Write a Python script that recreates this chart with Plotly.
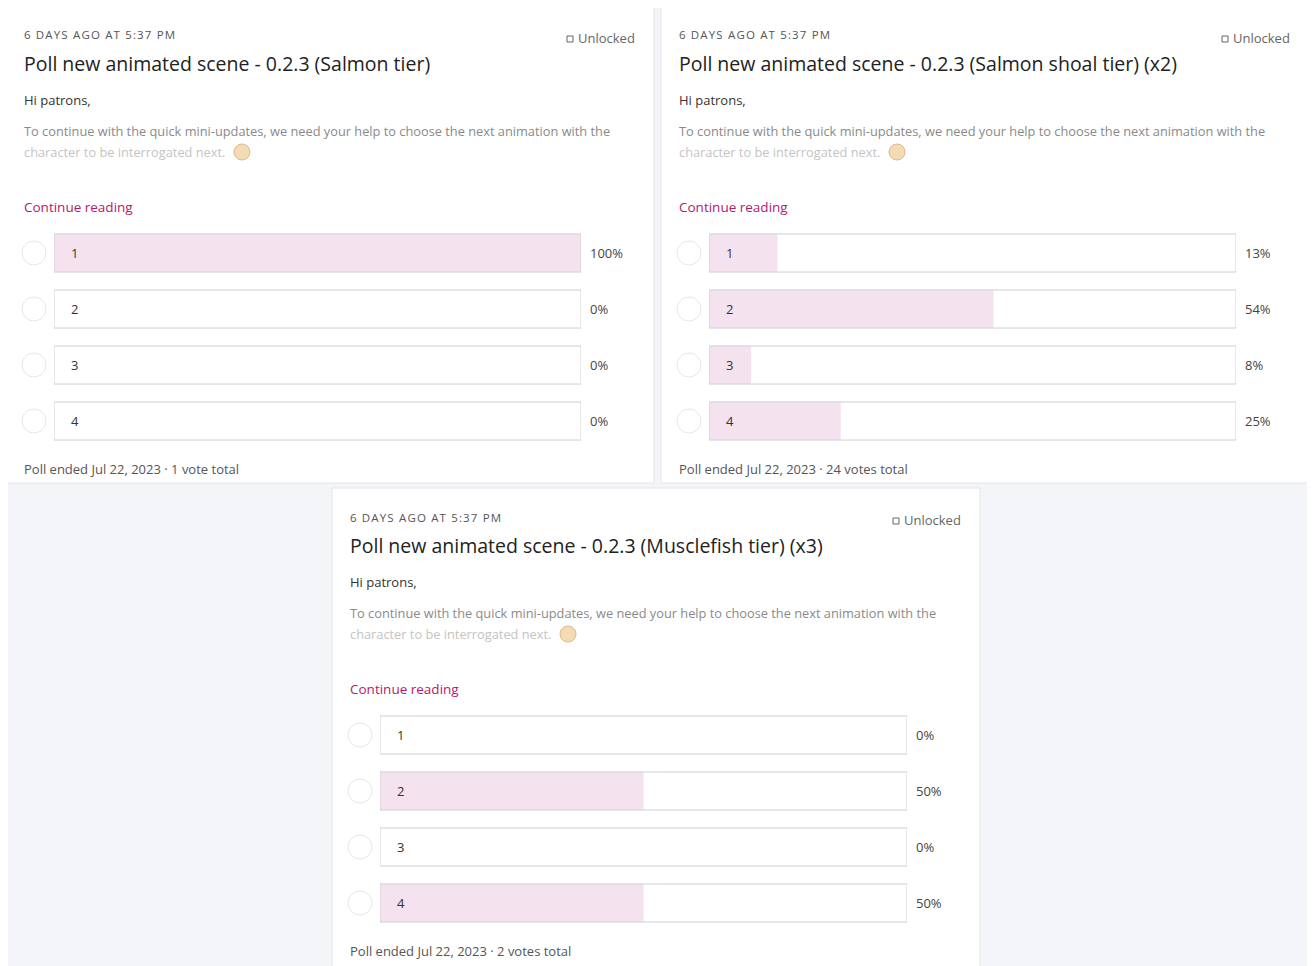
import plotly.graph_objects as go

W, H = 1315, 966
titles = ["Poll new animated scene - 0.2.3 (Salmon tier)",
          "Poll new animated scene - 0.2.3 (Salmon shoal tier) (x2)",
          "Poll new animated scene - 0.2.3 (Musclefish tier) (x3)"]
options = ["1", "2", "3", "4"]
pct_salmon = [100, 0, 0, 0]
pct_shoal = [13, 54, 8, 25]
pct_muscle = [0, 50, 0, 50]
footers = ["Poll ended Jul 22, 2023 · 1 vote total",
           "Poll ended Jul 22, 2023 · 24 votes total",
           "Poll ended Jul 22, 2023 · 2 votes total"]
polls = [pct_salmon, pct_shoal, pct_muscle]
cards = [(6, 6, 483), (661, 6, 483), (332, 488, 980)]

FONT = "Open Sans"
OFF = 8  # page body offset
def px(x): return (x - OFF) / W
def py(y): return 1 - (y - OFF) / H

fig = go.Figure()
shapes, annos = [], []
for i, ((cx, cy, cb), vals) in enumerate(zip(cards, polls)):
    shapes.append(dict(type="rect", xref="paper", yref="paper", x0=px(cx), x1=px(cx + 648),
                       y0=py(cb), y1=py(cy), fillcolor="white", line=dict(color="#e4e5ea", width=1), layer="below"))
    ox, oy = cx - 6, cy - 6
    def t(x, y, s, size, color, **kw):
        annos.append(dict(x=px(ox + x), y=py(oy + y), xref="paper", yref="paper", text=s, showarrow=False,
                          xanchor=kw.get("xanchor", "left"), yanchor="middle",
                          font=dict(family=FONT, size=size, color=color)))
    t(22, 35, "\u200a".join("6 DAYS AGO AT 5:37 PM"), 11.5, "#555")
    t(637, 38, "Unlocked", 13, "#666", xanchor="right")
    t(22, 63, titles[i], 19.5, "#222")
    t(22, 100, "Hi patrons,", 13, "#333")
    t(22, 131, "To continue with the quick mini-updates, we need your help to choose the next animation with the", 12.8, "#8a8a8a")
    t(22, 152, "character to be interrogated next.", 12.8, "#c4c4c4")
    shapes.append(dict(type="circle", xref="paper", yref="paper", x0=px(ox + 234), x1=px(ox + 250),
                       y0=py(oy + 160), y1=py(oy + 144), fillcolor="#f3dcb5", line=dict(color="#e0b888", width=1)))
    t(22, 207, "Continue reading", 13.5, "#b3186d")
    t(22, 469, footers[i], 13, "#555")
    ax = "" if i == 0 else str(i + 1)
    fig.add_trace(go.Bar(x=vals, y=list(range(4)), orientation="h", width=0.68,
                         marker=dict(color="#f4e3ee", line=dict(width=0)),
                         xaxis="x" + ax, yaxis="y" + ax, hoverinfo="skip", showlegend=False))
    fig.update_layout(**{
        "xaxis" + ax: dict(domain=[px(ox + 54), px(ox + 581)], range=[0, 100], visible=False, fixedrange=True,
                           anchor="y" + ax),
        "yaxis" + ax: dict(domain=[py(oy + 449), py(oy + 225)], range=[3.5, -0.5], visible=False, fixedrange=True,
                           anchor="x" + ax),
    })
    for k, (opt, v) in enumerate(zip(options, vals)):
        shapes.append(dict(type="rect", xref="x" + ax, yref="y" + ax, x0=0, x1=100, y0=k - 0.34, y1=k + 0.34,
                           line=dict(color="#cfd0d6", width=1), fillcolor="rgba(0,0,0,0)"))
        annos.append(dict(x=0, y=k, xref="x" + ax, yref="y" + ax, text=opt, showarrow=False, xanchor="left",
                          xshift=15, font=dict(family=FONT, size=13, color="#333")))
        annos.append(dict(x=100, y=k, xref="x" + ax, yref="y" + ax, text=f"{v}%", showarrow=False, xanchor="left",
                          xshift=7, font=dict(family=FONT, size=13, color="#444")))
        cyk = oy + 253 + 56 * k
        shapes.append(dict(type="circle", xref="paper", yref="paper", x0=px(ox + 22), x1=px(ox + 46),
                           y0=py(cyk + 12), y1=py(cyk - 12), line=dict(color="#e6e6ea", width=1), fillcolor="white"))
    shapes.append(dict(type="rect", xref="paper", yref="paper", x0=px(ox + 567), x1=px(ox + 573),
                       y0=py(oy + 42), y1=py(oy + 36), line=dict(color="#666", width=1)))

fig.update_layout(width=W, height=H, margin=dict(l=0, r=0, t=0, b=0), paper_bgcolor="#f4f5f8",
                  plot_bgcolor="rgba(0,0,0,0)", shapes=shapes, annotations=annos, barmode="overlay")
fig.write_html("out.html")
